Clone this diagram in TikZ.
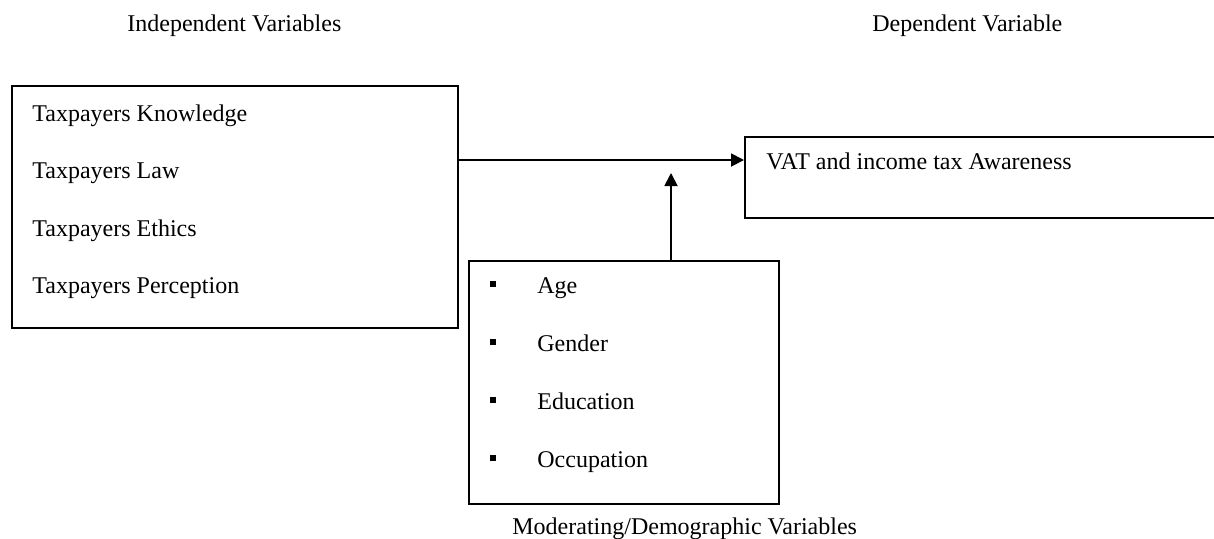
\documentclass[tikz,border=0pt]{standalone}
\usepackage{fontspec}
\setmainfont{Liberation Serif}
\usetikzlibrary{arrows.meta}
\begin{document}
\begin{tikzpicture}[x=0.5pt,y=-0.5pt,
  box/.style={draw,line width=0.9pt,rectangle,inner sep=0pt},
  lbl/.style={font=\fontsize{12pt}{14pt}\selectfont,inner sep=0pt,anchor=base west},
  bul/.style={fill=black,rectangle,inner sep=0pt,minimum size=3pt},
  arr/.style={line width=0.9pt,-{Triangle[length=6.5pt,width=6.5pt]}}]
\useasboundingbox (0,0) rectangle (1214,538);
\clip (0,0) rectangle (1214,538);
% headers
\node[lbl] (hi) at (127,31) {Independent Variables};
\node[lbl] (hd) at (872,31) {Dependent Variable};
% left box
\node[box,anchor=north west,minimum width=223pt,minimum height=121pt] (lbox) at (11,85) {};
\node[lbl] (t1) at (32,121) {Taxpayers Knowledge};
\node[lbl] (t2) at (32,178.5) {Taxpayers Law};
\node[lbl] (t3) at (32,236) {Taxpayers Ethics};
\node[lbl] (t4) at (32,293.5) {Taxpayers Perception};
% right box (runs past the right edge)
\node[box,anchor=north west,minimum width=260pt,minimum height=40.5pt] (rbox) at (744,136) {};
\node[lbl] (v) at (766,169) {VAT and income tax Awareness};
% bottom box
\node[box,anchor=north west,minimum width=155pt,minimum height=121.5pt] (bbox) at (468,260) {};
\node[bul] (b1) at (493,284) {};
\node[lbl] (m1) at (537,293) {Age};
\node[bul] (b2) at (493,342) {};
\node[lbl] (m2) at (537,351) {Gender};
\node[bul] (b3) at (493,400) {};
\node[lbl] (m3) at (537,409) {Education};
\node[bul] (b4) at (493,458) {};
\node[lbl] (m4) at (537,467) {Occupation};
\node[lbl] (cap) at (512,534) {Moderating/Demographic Variables};
% connectors
\coordinate (ay) at (600,160);
\coordinate (vt) at (671,173);
\draw[arr] (lbox.east |- ay) -- (rbox.west |- ay);
\draw[arr] (bbox.north -| vt) -- (vt);
\end{tikzpicture}
\end{document}
